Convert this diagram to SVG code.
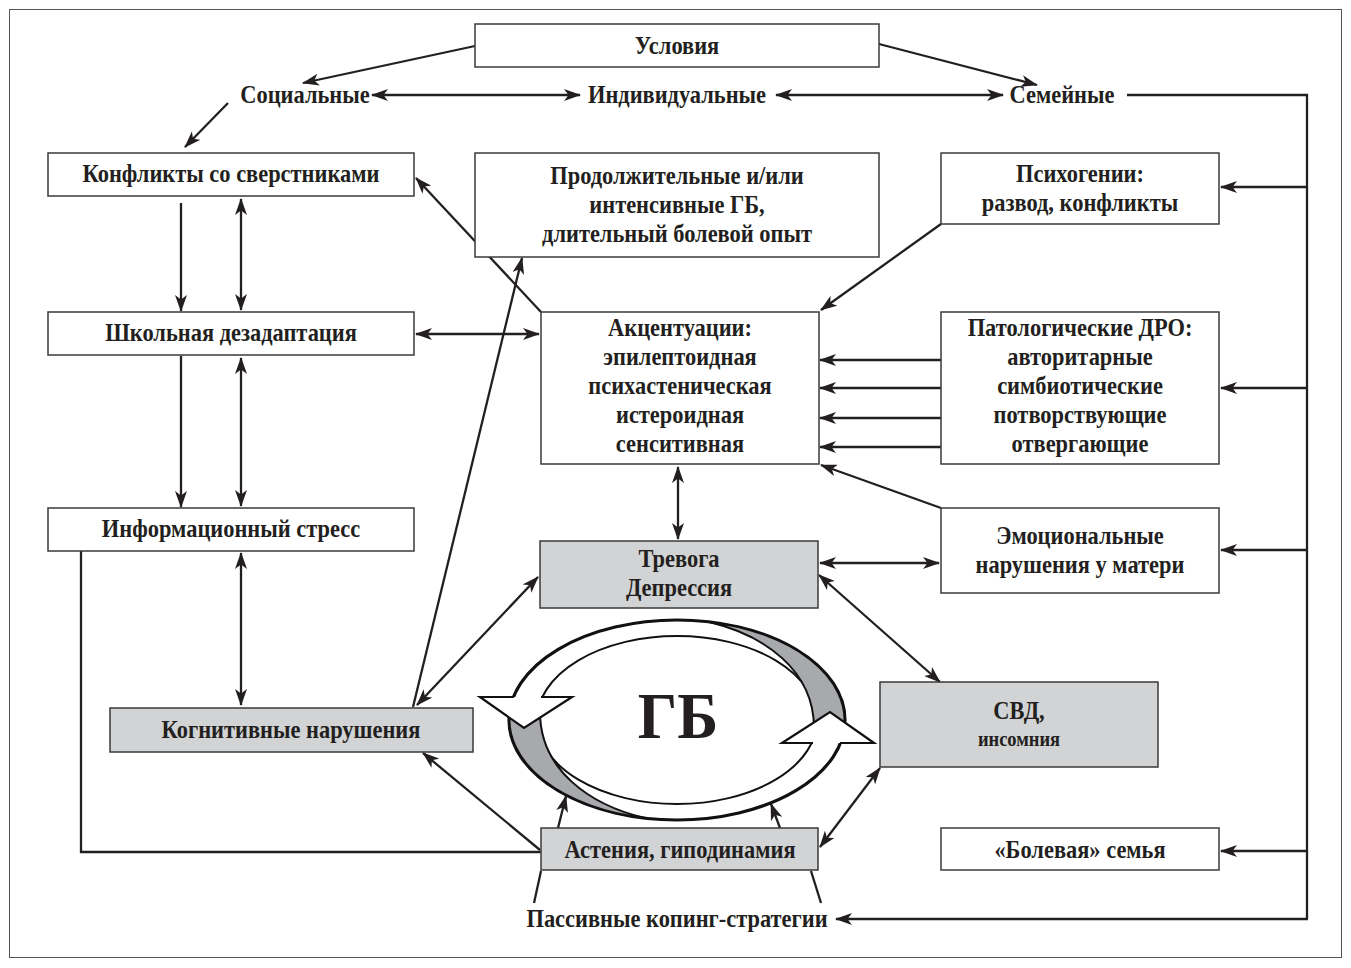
<svg xmlns="http://www.w3.org/2000/svg" width="1351" height="968" viewBox="0 0 1351 968">
<defs>
<style>
.bx{fill:#ffffff;stroke:#3a3a3a;stroke-width:1.5}
.gr{fill:#d1d3d4;stroke:#3a3a3a;stroke-width:1.5}
.t{font-family:"Liberation Serif","Times New Roman",serif;font-weight:bold;font-size:25.5px;fill:#231f20;text-anchor:middle}
.ln{fill:none;stroke:#231f20;stroke-width:2.3}
.a2{marker-start:url(#ah);marker-end:url(#ah)}
.a1{marker-end:url(#ah)}
.ring{stroke:#111;fill:#fff}
</style>
<marker id="ah" viewBox="0 0 17 12" refX="16" refY="6" markerWidth="17" markerHeight="12" markerUnits="userSpaceOnUse" orient="auto-start-reverse">
<path d="M0,0 L17,6 L0,12 L4.5,6 Z" fill="#231f20"/>
</marker>
</defs>
<rect x="9.5" y="9.5" width="1332" height="948" fill="#fff" stroke="#555" stroke-width="1"/>

<g id="connectors">
<line class="ln a1" x1="475" y1="46" x2="303" y2="83"/>
<line class="ln a1" x1="879" y1="44" x2="1037" y2="85"/>
<line class="ln a2" x1="372" y1="95" x2="580" y2="95"/>
<line class="ln a2" x1="776" y1="95" x2="1003" y2="95"/>
<line class="ln a1" x1="228" y1="103" x2="185" y2="147"/>
<polyline class="ln" points="1127,95 1307,95 1307,919"/>
<line class="ln a1" x1="1307" y1="187" x2="1221" y2="187"/>
<line class="ln a1" x1="1307" y1="388" x2="1221" y2="388"/>
<line class="ln a1" x1="1307" y1="550" x2="1221" y2="550"/>
<line class="ln a1" x1="1307" y1="851" x2="1221" y2="851"/>
<line class="ln a1" x1="1308" y1="919" x2="836" y2="919"/>
<line class="ln a1" x1="181" y1="203" x2="181" y2="311"/>
<line class="ln a2" x1="241" y1="199" x2="241" y2="310"/>
<line class="ln a1" x1="181" y1="356" x2="181" y2="507"/>
<line class="ln a2" x1="241" y1="358" x2="241" y2="506"/>
<line class="ln a2" x1="416" y1="334" x2="539" y2="334"/>
<line class="ln a2" x1="241" y1="553" x2="241" y2="705"/>
<polyline class="ln" points="81,551 81,852 541,852"/>
<line class="ln a1" x1="541" y1="312" x2="416" y2="178"/>
<line class="ln a1" x1="941" y1="224" x2="821" y2="310"/>
<line class="ln a1" x1="941" y1="360" x2="820" y2="360"/>
<line class="ln a1" x1="941" y1="388" x2="820" y2="388"/>
<line class="ln a1" x1="941" y1="418" x2="820" y2="418"/>
<line class="ln a1" x1="941" y1="447" x2="820" y2="447"/>
<line class="ln a1" x1="941" y1="508" x2="821" y2="465"/>
<line class="ln a2" x1="678" y1="467" x2="678" y2="539"/>
<line class="ln a2" x1="820" y1="563" x2="939" y2="563"/>
<line class="ln a2" x1="819" y1="575" x2="940" y2="682"/>
<line class="ln a2" x1="880" y1="768" x2="820" y2="847"/>
<line class="ln a1" x1="413" y1="707" x2="522" y2="258"/>
<line class="ln a2" x1="417" y1="705" x2="538" y2="577"/>
<line class="ln a1" x1="540" y1="850" x2="423" y2="753"/>
<line class="ln a1" x1="558" y1="828" x2="566" y2="796"/>
<line class="ln a1" x1="780" y1="828" x2="771" y2="804"/>
<line class="ln" x1="534" y1="903" x2="541" y2="871"/>
<line class="ln" x1="821" y1="903" x2="811" y2="871"/>
</g>

<g id="n-usloviya"><rect class="bx" x="475" y="24" width="404" height="43"/><text class="t" transform="translate(677 54) scale(0.88 1)">Условия</text></g>
<g id="n-socialnye"><text class="t" transform="translate(305 103) scale(0.88 1)">Социальные</text></g>
<g id="n-individualnye"><text class="t" transform="translate(677 103) scale(0.88 1)">Индивидуальные</text></g>
<g id="n-semeynye"><text class="t" transform="translate(1062 103) scale(0.88 1)">Семейные</text></g>

<g id="n-konflikty"><rect class="bx" x="48" y="153" width="366" height="43"/><text class="t" transform="translate(231 182) scale(0.88 1)">Конфликты со сверстниками</text></g>
<g id="n-prodolzh"><rect class="bx" x="475" y="153" width="404" height="104"/>
<text class="t" transform="translate(677 184) scale(0.88 1)">Продолжительные и/или</text>
<text class="t" transform="translate(677 213) scale(0.88 1)">интенсивные ГБ,</text>
<text class="t" transform="translate(677 242) scale(0.88 1)">длительный болевой опыт</text></g>
<g id="n-psihogenii"><rect class="bx" x="941" y="153" width="278" height="71"/>
<text class="t" transform="translate(1080 182) scale(0.88 1)">Психогении:</text>
<text class="t" transform="translate(1080 211) scale(0.88 1)">развод, конфликты</text></g>

<g id="n-shkolnaya"><rect class="bx" x="48" y="312" width="366" height="43"/><text class="t" transform="translate(231 341) scale(0.88 1)">Школьная дезадаптация</text></g>
<g id="n-akcent"><rect class="bx" x="541" y="312" width="278" height="152"/>
<text class="t" transform="translate(680 336) scale(0.88 1)">Акцентуации:</text>
<text class="t" transform="translate(680 365) scale(0.88 1)">эпилептоидная</text>
<text class="t" transform="translate(680 394) scale(0.88 1)">психастеническая</text>
<text class="t" transform="translate(680 423) scale(0.88 1)">истероидная</text>
<text class="t" transform="translate(680 452) scale(0.88 1)">сенситивная</text></g>
<g id="n-dro"><rect class="bx" x="941" y="312" width="278" height="152"/>
<text class="t" transform="translate(1080 336) scale(0.88 1)">Патологические ДРО:</text>
<text class="t" transform="translate(1080 365) scale(0.88 1)">авторитарные</text>
<text class="t" transform="translate(1080 394) scale(0.88 1)">симбиотические</text>
<text class="t" transform="translate(1080 423) scale(0.88 1)">потворствующие</text>
<text class="t" transform="translate(1080 452) scale(0.88 1)">отвергающие</text></g>

<g id="n-inform"><rect class="bx" x="48" y="508" width="366" height="43"/><text class="t" transform="translate(231 537) scale(0.88 1)">Информационный стресс</text></g>
<g id="n-emoc"><rect class="bx" x="941" y="508" width="278" height="85"/>
<text class="t" transform="translate(1080 544) scale(0.88 1)">Эмоциональные</text>
<text class="t" transform="translate(1080 573) scale(0.88 1)">нарушения у матери</text></g>
<g id="n-trevoga"><rect class="gr" x="540" y="541" width="278" height="67"/>
<text class="t" transform="translate(679 567) scale(0.88 1)">Тревога</text>
<text class="t" transform="translate(679 596) scale(0.88 1)">Депрессия</text></g>

<g id="n-kognit"><rect class="gr" x="110" y="708" width="363" height="44"/><text class="t" transform="translate(291 738) scale(0.88 1)">Когнитивные нарушения</text></g>
<g id="n-svd"><rect class="gr" x="880" y="682" width="278" height="85"/>
<text class="t" transform="translate(1019 719) scale(0.88 1)">СВД,</text>
<text class="t" transform="translate(1019 746) scale(0.88 1)" style="font-size:21px">инсомния</text></g>

<g id="n-gb">
<ellipse class="ring" cx="677" cy="720" rx="168" ry="100" stroke-width="3.2"/>
<ellipse class="ring" cx="677" cy="720" rx="140" ry="84" stroke-width="2"/>
<path d="M510,712 A168,100 0 0,0 645,818 C590,805 540,770 540,712 Z" fill="#a7a9ac" stroke="#111" stroke-width="2"/>
<path d="M514,697 L480,697 L524,728 L572,697 L541,697" fill="#fff" stroke="#111" stroke-width="2.2"/>
<g transform="rotate(180 677 720)">
<path d="M510,712 A168,100 0 0,0 645,818 C590,805 540,770 540,712 Z" fill="#a7a9ac" stroke="#111" stroke-width="2"/>
<path d="M514,697 L480,697 L524,728 L572,697 L541,697" fill="#fff" stroke="#111" stroke-width="2.2"/>
</g>
<text class="t" transform="translate(678 738) scale(0.94 1)" style="font-size:66px">ГБ</text>
</g>

<g id="n-astenia"><rect class="gr" x="541" y="828" width="277" height="42"/><text class="t" transform="translate(680 858) scale(0.88 1)">Астения, гиподинамия</text></g>
<g id="n-bolevaya"><rect class="bx" x="941" y="828" width="278" height="42"/><text class="t" transform="translate(1080 858) scale(0.88 1)">«Болевая» семья</text></g>
<g id="n-passivnye"><text class="t" transform="translate(677 927) scale(0.88 1)">Пассивные копинг-стратегии</text></g>
</svg>
